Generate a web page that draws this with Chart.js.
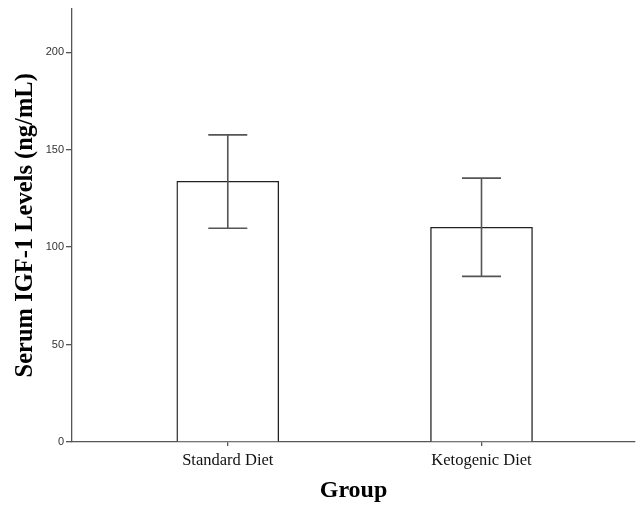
<!DOCTYPE html>
<html>
<head>
<meta charset="utf-8">
<script src="https://cdn.jsdelivr.net/npm/chart.js@4/dist/chart.umd.min.js"></script>
<style>
  html, body { margin: 0; padding: 0; background: #ffffff; }
  canvas { display: block; }
</style>
</head>
<body>
<canvas id="c" width="636" height="506"></canvas>
<script>
// Group means with error bar bounds (ng/mL)
const groups = ['Standard Diet', 'Ketogenic Diet'];
const means = [133.8, 110.2];
const errLow = [109.7, 85.0];
const errHigh = [157.6, 135.4];
const yTicks = [0, 50, 100, 150, 200];

const serif = '"Liberation Serif", "Times New Roman", serif';
const sansNarrow = '"Liberation Sans Narrow", "Arial Narrow", "Liberation Sans", Arial, sans-serif';

// Vertical error bars with caps, drawn from the data through the chart scales
const errorBars = {
  id: 'errorBars',
  afterDatasetsDraw(chart) {
    const { ctx, scales: { x, y } } = chart;
    const cap = 39;
    ctx.save();
    ctx.strokeStyle = '#555555';
    ctx.lineWidth = 1.6;
    groups.forEach((g, i) => {
      const cx = x.getPixelForValue(i);
      const yl = y.getPixelForValue(errLow[i]);
      const yh = y.getPixelForValue(errHigh[i]);
      ctx.beginPath();
      ctx.moveTo(cx, yl); ctx.lineTo(cx, yh);
      ctx.moveTo(cx - cap / 2, yh); ctx.lineTo(cx + cap / 2, yh);
      ctx.moveTo(cx - cap / 2, yl); ctx.lineTo(cx + cap / 2, yl);
      ctx.stroke();
    });
    ctx.restore();
  }
};

new Chart(document.getElementById('c'), {
  type: 'bar',
  data: {
    datasets: [{
      data: means.map((v, i) => ({ x: i, y: v })),
      backgroundColor: '#ffffff',
      borderColor: '#222222',
      borderWidth: 1.4,
      borderSkipped: 'bottom',
      barThickness: 102
    }]
  },
  options: {
    responsive: false,
    animation: false,
    devicePixelRatio: 1,
    layout: { padding: { top: 8, right: 1, left: 0, bottom: 0 } },
    plugins: { legend: { display: false }, tooltip: { enabled: false } },
    scales: {
      x: {
        type: 'linear',
        offset: false,
        min: -0.614,
        max: 1.605,
        afterBuildTicks(scale) { scale.ticks = groups.map((g, i) => ({ value: i })); },
        afterFit(scale) { scale.height = 64; },
        ticks: {
          callback: (v) => groups[v],
          font: { family: serif, size: 16.5 },
          color: '#111111',
          padding: 5,
          maxRotation: 0,
          autoSkip: false
        },
        grid: { offset: false, drawOnChartArea: false, drawTicks: true, tickLength: 4, color: '#555555', lineWidth: 1.3 },
        border: { display: true, color: '#555555', width: 1.3 },
        title: {
          display: true,
          text: 'Group',
          font: { family: serif, size: 24, weight: 'bold' },
          color: '#000000',
          padding: { top: 0, bottom: 1 }
        }
      },
      y: {
        min: 0,
        max: 222.4,
        afterBuildTicks(scale) { scale.ticks = yTicks.map(v => ({ value: v })); },
        afterFit(scale) { scale.width = 72; },
        ticks: {
          font: { family: sansNarrow, size: 11 },
          color: '#333333',
          padding: 2
        },
        grid: { drawOnChartArea: false, drawTicks: true, tickLength: 6, color: '#555555', lineWidth: 1.3 },
        border: { display: true, color: '#555555', width: 1.3 },
        title: {
          display: true,
          text: 'Serum IGF-1 Levels (ng/mL)',
          font: { family: serif, size: 24.5, weight: 'bold' },
          color: '#000000',
          padding: { top: 10.5, bottom: 0 }
        }
      }
    }
  },
  plugins: [errorBars]
});
</script>
</body>
</html>
